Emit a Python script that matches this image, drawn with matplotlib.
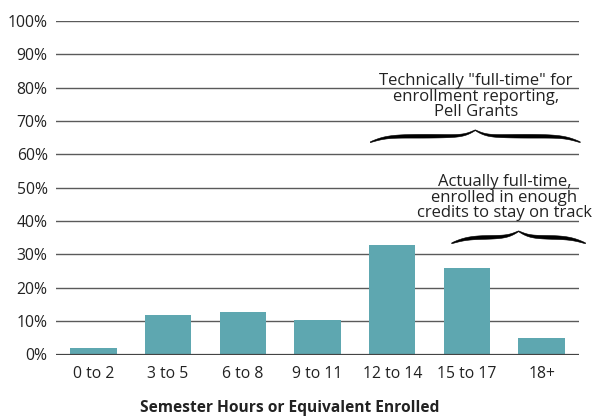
import numpy as np
import matplotlib
matplotlib.use("Agg")
import matplotlib.pyplot as plt

plt.rcParams['font.family'] = ['Open Sans', 'DejaVu Sans']

# data
categories = ['0 to 2', '3 to 5', '6 to 8', '9 to 11', '12 to 14', '15 to 17', '18+']
shares = [1.8, 11.8, 12.6, 10.4, 32.8, 25.9, 4.8]
y_ticks = list(range(0, 101, 10))

brace_notes = ['Technically "full-time" for\nenrollment reporting,\nPell Grants',
               'Actually full-time,\nenrolled in enough\ncredits to stay on track']
brace_spans = [(3.70, 6.51), (4.79, 6.58)]
brace_levels = [65.6, 35.3]
note_x = [5.12, 5.50]

bar_color = '#5ea7b0'
grid_color = '#5a5a5a'
text_color = '#222222'


def draw_brace(ax, x0, x1, y, unit=3.6, beta_end=9.0, beta_mid=13.0, thick=1.1):
    n = 401
    x = np.linspace(x0, x1, n)
    xh = x[:n // 2 + 1]
    half = (1 / (1 + np.exp(-beta_end * (xh - xh[0])))
            + 1 / (1 + np.exp(-beta_mid * (xh - xh[-1]))))
    s = np.concatenate((half, half[-2::-1]))
    yc = y + unit * (s - 1)
    # thickness tapers at the ends and at the middle point
    u = np.linspace(0, 1, n)
    frac = np.where(u < 0.5, u * 2, (1 - u) * 2)
    w = thick * (0.2 + 0.8 * np.sin(np.pi * frac) ** 0.7)
    ax.fill_between(x, yc - w / 2, yc + w / 2, color='black', lw=0.4,
                    clip_on=False)


fig = plt.figure(figsize=(5.93, 4.18), dpi=100)
ax = fig.add_axes([56 / 593, 1 - 354.5 / 418, (579 - 56) / 593, (354.5 - 21) / 418])

xpos = np.arange(len(categories))
ax.bar(xpos, shares, width=0.62, color=bar_color, zorder=2)

ax.set_xlim(-0.5, len(categories) - 0.5)
ax.set_ylim(0, 100)
ax.set_yticks(y_ticks)
ax.set_yticklabels([f'{t}%' for t in y_ticks])
ax.set_xticks(xpos)
ax.set_xticklabels(categories)
ax.tick_params(axis='both', length=0, labelsize=11.3, colors=text_color)
ax.tick_params(axis='y', pad=6)
ax.tick_params(axis='x', pad=8)

for t in y_ticks[1:]:
    ax.axhline(t, color=grid_color, lw=1.0, zorder=1)
ax.axhline(0, color='#444444', lw=1.6, zorder=3)

for sp in ax.spines.values():
    sp.set_visible(False)

for (x0, x1), lvl, nx, note in zip(brace_spans, brace_levels, note_x, brace_notes):
    draw_brace(ax, x0, x1, lvl)
    ax.text(nx, lvl + 4.6, note, ha='center', va='bottom',
            fontsize=12, color=text_color, linespacing=0.97)

fig.text(290 / 593, 1 - 408 / 418, 'Semester Hours or Equivalent Enrolled',
         ha='center', va='center', fontsize=11.2, fontweight='bold', color=text_color)

fig.savefig('out.png', dpi=100)
